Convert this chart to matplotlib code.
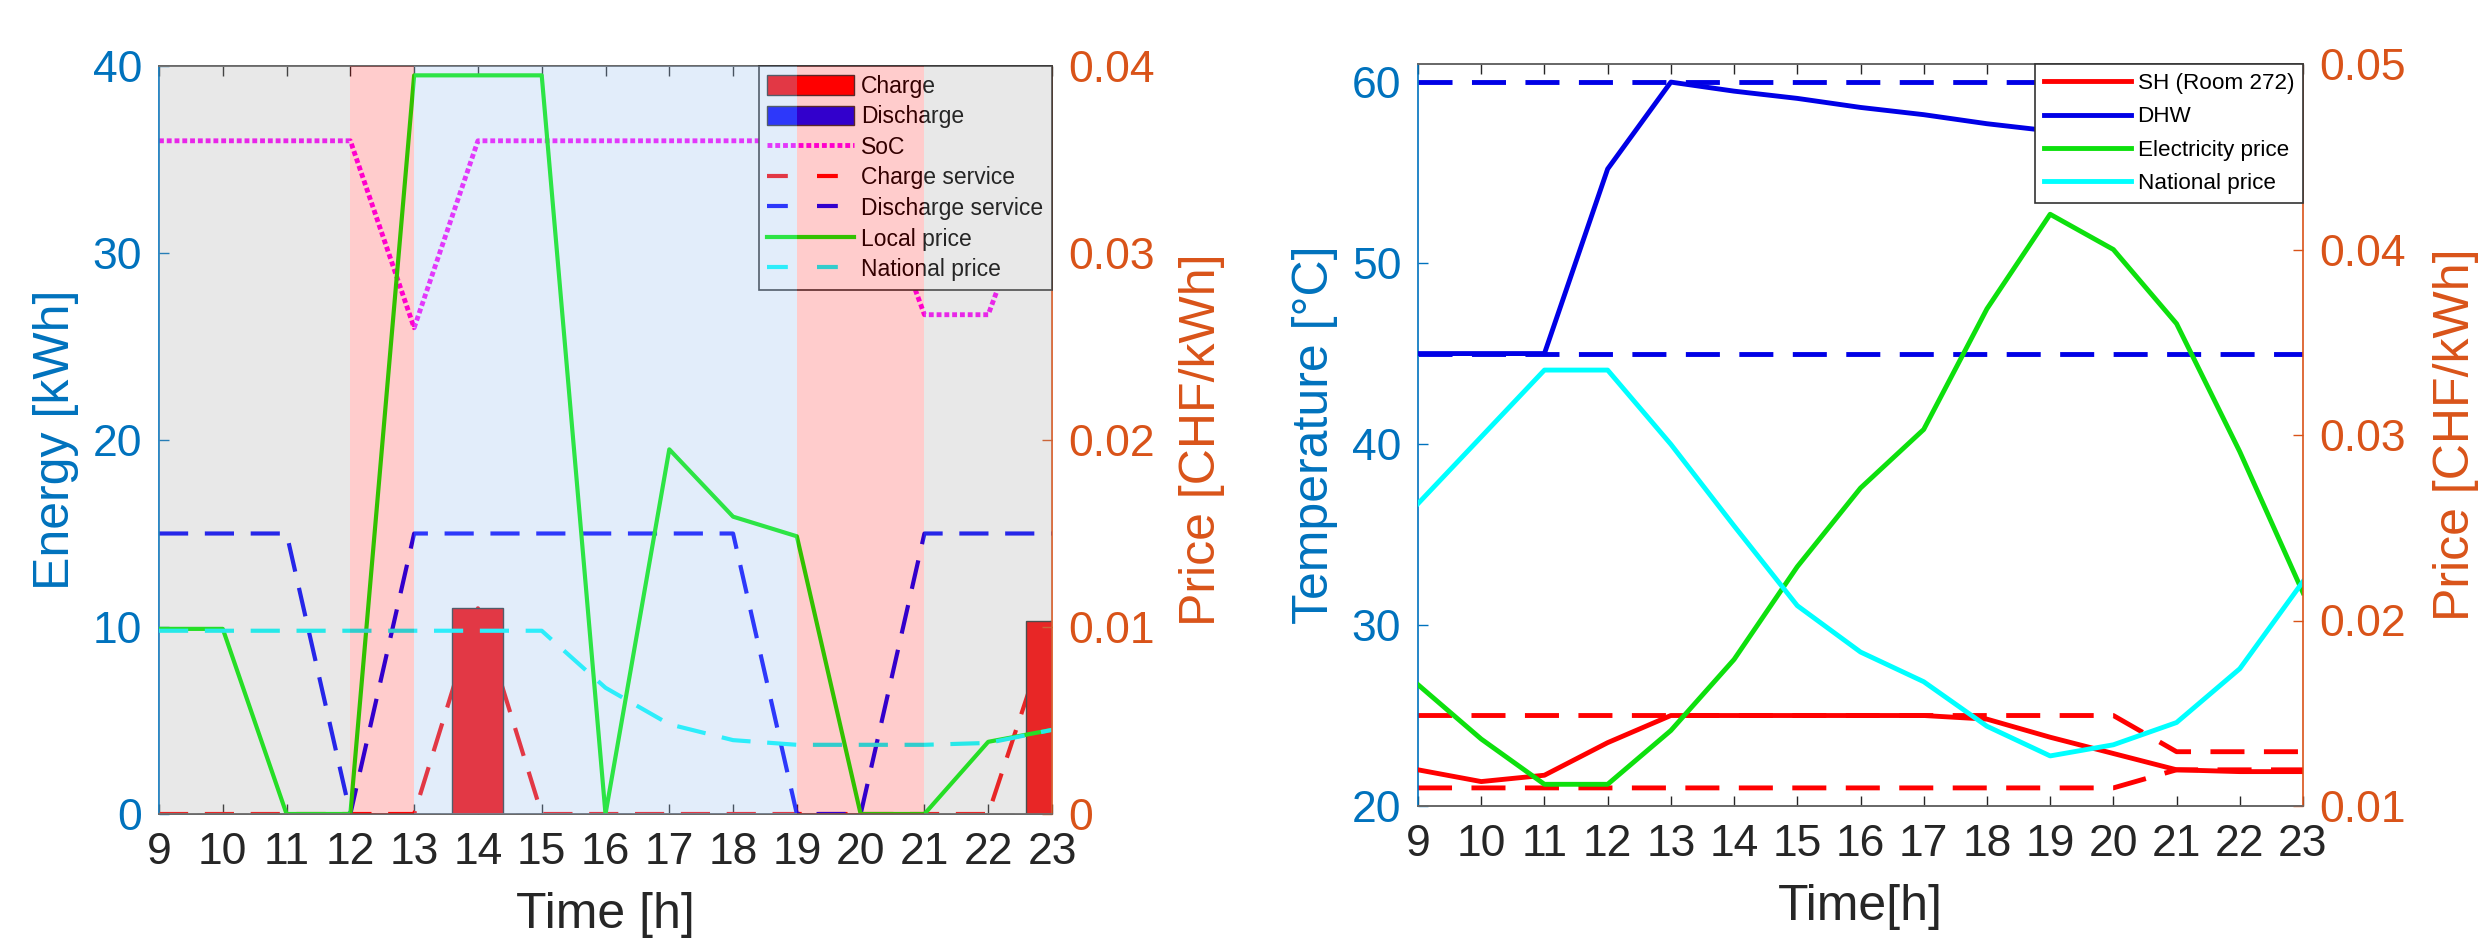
import matplotlib
matplotlib.use('Agg')
import matplotlib.pyplot as plt
from matplotlib.patches import Patch
from matplotlib.lines import Line2D

plt.rcParams['font.family'] = ['Liberation Sans', 'DejaVu Sans']

# ---------------- data: left panel (battery) ----------------
hours = list(range(9, 24))
charge = [0, 0, 0, 0, 0, 11.0, 0, 0, 0, 0, 0, 0, 0, 0, 10.3]
discharge = [0] * 15
soc = [36, 36, 36, 36, 26, 36, 36, 36, 36, 36, 36, 36, 26.7, 26.7, 36]
charge_service = [0, 0, 0, 0, 0, 11.0, 0, 0, 0, 0, 0, 0, 0, 0, 10.3]
discharge_service = [15, 15, 15, 0, 15, 15, 15, 15, 15, 15, 0, 0, 15, 15, 15]
local_price = [0.0099, 0.0099, 0, 0, 0.0395, 0.0395, 0.0395, 0, 0.0195, 0.0159,
               0.01485, 0, 0, 0.00386, 0.0045]
national_price_left = [0.0098, 0.0098, 0.0098, 0.0098, 0.0098, 0.0098, 0.0098,
                       0.00675, 0.0048, 0.00395, 0.0037, 0.0037, 0.0037, 0.0038, 0.0045]
period_edges = [9, 12, 13, 19, 21, 23]
period_modes = ['idle', 'charge', 'discharge', 'charge', 'idle']

# ---------------- data: right panel (heat pump) ----------------
sh_temp = [22.0, 21.35, 21.7, 23.5, 25, 25, 25, 25, 25, 24.8, 23.8, 22.9, 22.0, 21.9, 21.9]
sh_upper = [25, 25, 25, 25, 25, 25, 25, 25, 25, 25, 25, 25, 23, 23, 23]
sh_lower = [21, 21, 21, 21, 21, 21, 21, 21, 21, 21, 21, 21, 22, 22, 22]
dhw_temp = [45, 45, 45, 55.2, 60, 59.5, 59.1, 58.6, 58.2, 57.7, 57.3, 56.8, 56.4, 55.9, 55.5]
dhw_upper = [60] * 15
dhw_lower = [45] * 15
elec_price = [0.01654, 0.01361, 0.01117, 0.01117, 0.01407, 0.0179, 0.0229, 0.02714,
              0.0303, 0.0368, 0.0419, 0.0400, 0.0360, 0.0291, 0.0215]
national_price_right = [0.0263, 0.0299, 0.0335, 0.0335, 0.0295, 0.0251, 0.0208, 0.0183,
                        0.0167, 0.0143, 0.0127, 0.0133, 0.0145, 0.0174, 0.0221]

# ---------------- styling ----------------
BLUE_AX = (0, 114 / 255, 189 / 255)
ORANGE_AX = (217 / 255, 83 / 255, 25 / 255)
DARK = (0.15, 0.15, 0.15)
TICK_FS = 32
LABEL_FS = 36
DASH = (0, (7, 4))
DOT = (0, (1, 0.6))
overlay = {
    'idle': ((0.63, 0.63, 0.63), 0.24),
    'charge': ((1.0, 0.0, 0.0), 0.20),
    'discharge': ((158 / 255, 196 / 255, 241 / 255), 0.29),
}

W, H = 2487, 943
fig = plt.figure(figsize=(W / 100, H / 100), dpi=100)


def style_axes(axl, axr, lcolor, rcolor):
    axl.tick_params(axis='x', direction='in', top=True, bottom=True, length=7,
                    width=1, colors=DARK, labelsize=TICK_FS, pad=13)
    axl.tick_params(axis='y', direction='in', left=True, right=False, length=7,
                    width=1, colors=lcolor, labelsize=TICK_FS, pad=12)
    axr.tick_params(axis='y', direction='in', right=True, left=False, length=7,
                    width=1, colors=rcolor, labelsize=TICK_FS, pad=12)
    axr.tick_params(axis='x', which='both', top=False, bottom=False,
                    labeltop=False, labelbottom=False)
    axl.spines['left'].set_color(lcolor)
    axl.spines['right'].set_visible(False)
    axr.spines['left'].set_visible(False)
    axr.spines['right'].set_color(rcolor)
    for ax in (axl, axr):
        for s in ('top', 'bottom'):
            ax.spines[s].set_color((0.4, 0.4, 0.4))
        for s in ax.spines.values():
            s.set_linewidth(1.2)


# ================= LEFT PANEL =================
ax1 = fig.add_axes([159 / W, 1 - 814 / H, (1052 - 159) / W, (814 - 66) / H])
ax2 = ax1.twinx()
ax1.set_xlim(9, 23)
ax1.set_ylim(0, 40)
ax2.set_ylim(0, 0.04)
ax1.set_xticks(hours)
ax1.set_yticks([0, 10, 20, 30, 40])
ax2.set_yticks([0, 0.01, 0.02, 0.03, 0.04])
ax2.set_yticklabels(['0', '0.01', '0.02', '0.03', '0.04'])

ax1.plot(hours, charge_service, color='red', lw=3, linestyle=DASH, zorder=2)
ax1.plot(hours, discharge_service, color='blue', lw=3, linestyle=DASH, zorder=2)
ax1.plot(hours, soc, color='magenta', lw=3.5, linestyle=DOT, zorder=2)
ax1.bar(hours, charge, width=0.8, color='red', edgecolor=(0.2, 0.2, 0.2),
        linewidth=1, zorder=3)
ax1.bar(hours, discharge, width=0.8, color='blue', edgecolor=(0.2, 0.2, 0.2),
        linewidth=0, zorder=3)
ax2.plot(hours, local_price, color=(0, 0.95, 0), lw=3, zorder=2)
ax2.plot(hours, national_price_left, color='cyan', lw=3, linestyle=DASH, zorder=2)

for a, b, m in zip(period_edges[:-1], period_edges[1:], period_modes):
    c, al = overlay[m]
    ax2.axvspan(a, b, color=c, alpha=al, lw=0, zorder=6)

handles1 = [
    Patch(facecolor='red', edgecolor=(0.2, 0.2, 0.2), lw=1),
    Patch(facecolor='blue', edgecolor=(0.2, 0.2, 0.2), lw=1),
    Line2D([], [], color='magenta', lw=3.5, linestyle=DOT),
    Line2D([], [], color='red', lw=3, linestyle=(0, (5, 7))),
    Line2D([], [], color='blue', lw=3, linestyle=(0, (5, 7))),
    Line2D([], [], color=(0, 0.95, 0), lw=3),
    Line2D([], [], color='cyan', lw=3, linestyle=(0, (5, 7))),
]
labels1 = ['Charge', 'Discharge', 'SoC', 'Charge service', 'Discharge service',
           'Local price', 'National price']
leg1 = ax2.legend(handles1, labels1, loc='upper right', bbox_to_anchor=(1, 1),
                  borderaxespad=0, fontsize=16.5, handlelength=3.8, handleheight=0.95,
                  handletextpad=0.3, labelspacing=0.33, borderpad=0.38,
                  fancybox=False, framealpha=1)
fr = leg1.get_frame()
fr.set_facecolor('white')
fr.set_edgecolor((0.2, 0.2, 0.2))
fr.set_linewidth(1.2)
leg1.set_zorder(5)

style_axes(ax1, ax2, BLUE_AX, ORANGE_AX)
ax1.set_xlabel('Time [h]', fontsize=LABEL_FS, color=DARK, labelpad=14)
ax1.set_ylabel('Energy [kWh]', fontsize=LABEL_FS, color=BLUE_AX, labelpad=10)
ax2.set_ylabel('Price [CHF/kWh]', fontsize=LABEL_FS, color=ORANGE_AX, labelpad=17)

# ================= RIGHT PANEL =================
ax3 = fig.add_axes([1418 / W, 1 - 806 / H, (2303 - 1418) / W, (806 - 64) / H])
ax4 = ax3.twinx()
ax3.set_xlim(9, 23)
ax3.set_ylim(20, 61)
ax4.set_ylim(0.01, 0.05)
ax3.set_xticks(hours)
ax3.set_yticks([20, 30, 40, 50, 60])
ax4.set_yticks([0.01, 0.02, 0.03, 0.04, 0.05])
ax4.set_yticklabels(['0.01', '0.02', '0.03', '0.04', '0.05'])

RED = (1, 0, 0)
BLU = (0, 0, 0.9)
GRN = (0.05, 0.88, 0.05)
l_sh, = ax3.plot(hours, sh_temp, color=RED, lw=3.5, zorder=3)
ax3.plot(hours, sh_upper, color=RED, lw=3.5, linestyle=DASH, zorder=2)
ax3.plot(hours, sh_lower, color=RED, lw=3.5, linestyle=DASH, zorder=2)
l_dhw, = ax3.plot(hours, dhw_temp, color=BLU, lw=3.5, zorder=3)
ax3.plot(hours, dhw_upper, color=BLU, lw=3.5, linestyle=DASH, zorder=2)
ax3.plot(hours, dhw_lower, color=BLU, lw=3.5, linestyle=DASH, zorder=2)
l_ep, = ax4.plot(hours, elec_price, color=GRN, lw=3.5)
l_np, = ax4.plot(hours, national_price_right, color='cyan', lw=3.5)

leg2 = ax4.legend([l_sh, l_dhw, l_ep, l_np],
                  ['SH (Room 272)', 'DHW', 'Electricity price', 'National price'],
                  loc='upper right', bbox_to_anchor=(1, 1), borderaxespad=0,
                  fontsize=16.2, handlelength=3.85, handletextpad=0.3,
                  labelspacing=0.55, borderpad=0.4, fancybox=False, framealpha=1)
fr2 = leg2.get_frame()
fr2.set_edgecolor((0.2, 0.2, 0.2))
fr2.set_linewidth(1.2)
leg2.set_zorder(10)

style_axes(ax3, ax4, BLUE_AX, ORANGE_AX)
ax3.set_xlabel('Time[h]', fontsize=LABEL_FS, color=DARK, labelpad=14)
ax3.set_ylabel('Temperature [°C]', fontsize=LABEL_FS, color=BLUE_AX, labelpad=10)
ax4.set_ylabel('Price [CHF/kWh]', fontsize=LABEL_FS, color=ORANGE_AX, labelpad=19)

fig.savefig('out.png', dpi=100)
